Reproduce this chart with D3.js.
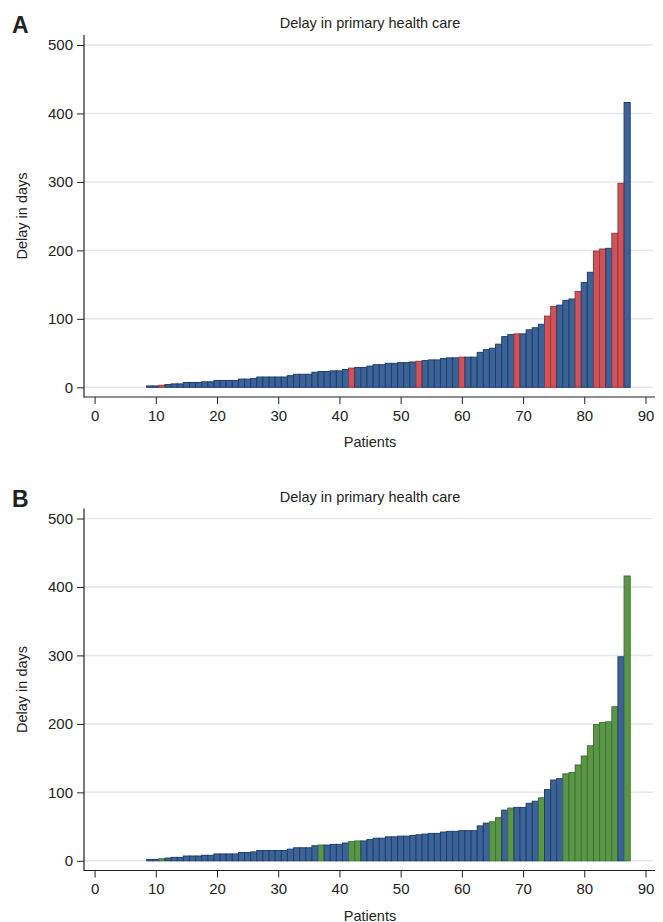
<!DOCTYPE html>
<html>
<head>
<meta charset="utf-8">
<script src="https://cdnjs.cloudflare.com/ajax/libs/d3/7.8.5/d3.min.js"></script>
<style>
  body { margin: 0; background: #fff; }
  svg text { font-family: "Liberation Sans", Arial, sans-serif; fill: #222; }
</style>
</head>
<body>
<div class="container"></div>
<script>
// patients with a non-zero delay start at number 9
const firstPatient = 9;
const delays = [
    2, 2, 3, 4, 5, 5, 7, 7, 7, 8,          // 9-18
    8, 10, 10, 10, 10, 12, 12, 13, 15, 15, // 19-28
    15, 15, 15, 17, 19, 19, 19, 22, 23, 23, // 29-38
    24, 24, 26, 28, 29, 29, 31, 33, 33, 35, // 39-48
    35, 36, 36, 37, 38, 39, 40, 40, 42, 43, // 49-58
    43, 44, 44, 44, 51, 55, 57, 63, 74, 77, // 59-68
    78, 78, 84, 87, 92, 104, 118, 120, 127, 129, // 69-78
    140, 153, 168, 199, 202, 203, 225, 298, 416  // 79-87
];
// highlighted patients in each panel
const highlightA = [11, 42, 53, 60, 69, 74, 75, 79, 82, 83, 85, 86];
const highlightB = [11, 37, 42, 43, 65, 66, 68, 73, 77, 78, 79, 80, 81, 82, 83, 84, 85, 87];

const xTicks = [0, 10, 20, 30, 40, 50, 60, 70, 80, 90];
const yTicks = [0, 100, 200, 300, 400, 500];

const WIDTH = 663;
const HEIGHT = 922;

const BLUE = { fill: '#3d6396', stroke: '#1d3f72' };
const RED = { fill: '#cf5459', stroke: '#a3333b' };
const GREEN = { fill: '#5b9548', stroke: '#3c7630' };

var data = delays.map(function (d, i) {
    return { patient: firstPatient + i, delay: d };
});

var svg = d3.select('.container').append('svg')
    .attr('width', WIDTH)
    .attr('height', HEIGHT);

var xScale = d3.scaleLinear().domain([0, 90]).range([94.6, 645.5]);

var drawPanel = function (letter, offsetY, highlight, hiColor) {
    var g = svg.append('g').attr('transform', 'translate(0,' + offsetY + ')');

    var yScale = d3.scaleLinear().domain([0, 500]).range([387.3, 45]);
    var left = 84, right = 655, bottom = 397, top = 35;

    // panel letter and title
    g.append('text').attr('x', 12).attr('y', 33)
        .style('font-size', '23px').style('font-weight', 'bold')
        .text(letter);
    g.append('text').attr('x', 370).attr('y', 28)
        .attr('text-anchor', 'middle').style('font-size', '14.5px')
        .text('Delay in primary health care');

    // gridlines
    g.selectAll('.grid').data(yTicks).enter().append('line')
        .attr('x1', left).attr('x2', right - 2)
        .attr('y1', function (d) { return yScale(d); })
        .attr('y2', function (d) { return yScale(d); })
        .attr('stroke', '#dfe7f1').attr('stroke-width', 1.5);

    // bars
    g.selectAll('rect').data(data).enter().append('rect')
        .attr('x', function (d) { return xScale(d.patient - 0.5); })
        .attr('width', xScale(1) - xScale(0))
        .attr('y', function (d) { return yScale(d.delay); })
        .attr('height', function (d) { return yScale(0) - yScale(d.delay); })
        .attr('fill', function (d) { return highlight.indexOf(d.patient) >= 0 ? hiColor.fill : BLUE.fill; })
        .attr('stroke', function (d) { return highlight.indexOf(d.patient) >= 0 ? hiColor.stroke : BLUE.stroke; })
        .attr('stroke-width', 1);

    // axes
    var yAxis = d3.axisLeft(yScale).tickValues(yTicks).tickSize(7).tickPadding(4);
    var ya = g.append('g').attr('transform', 'translate(' + left + ',0)').call(yAxis);
    ya.select('.domain').remove();
    ya.selectAll('text').style('font-size', '15px').attr('fill', '#222');
    ya.selectAll('line').attr('stroke', '#222');

    var xAxis = d3.axisBottom(xScale).tickValues(xTicks).tickSize(7).tickPadding(6);
    var xa = g.append('g').attr('transform', 'translate(0,' + bottom + ')').call(xAxis);
    xa.select('.domain').remove();
    xa.selectAll('text').style('font-size', '15px').attr('fill', '#222');
    xa.selectAll('line').attr('stroke', '#222');

    g.append('line').attr('x1', left).attr('x2', left).attr('y1', top).attr('y2', bottom + 0.5)
        .attr('stroke', '#222').attr('stroke-width', 1.2);
    g.append('line').attr('x1', left).attr('x2', right).attr('y1', bottom).attr('y2', bottom)
        .attr('stroke', '#222').attr('stroke-width', 1.2);

    // axis titles
    g.append('text').attr('x', 370).attr('y', 447)
        .attr('text-anchor', 'middle').style('font-size', '14.5px')
        .text('Patients');
    g.append('text')
        .attr('transform', 'translate(27,216) rotate(-90)')
        .attr('text-anchor', 'middle').style('font-size', '14.5px')
        .text('Delay in days');
};

drawPanel('A', 0, highlightA, RED);
drawPanel('B', 473.5, highlightB, GREEN);
</script>
</body>
</html>
